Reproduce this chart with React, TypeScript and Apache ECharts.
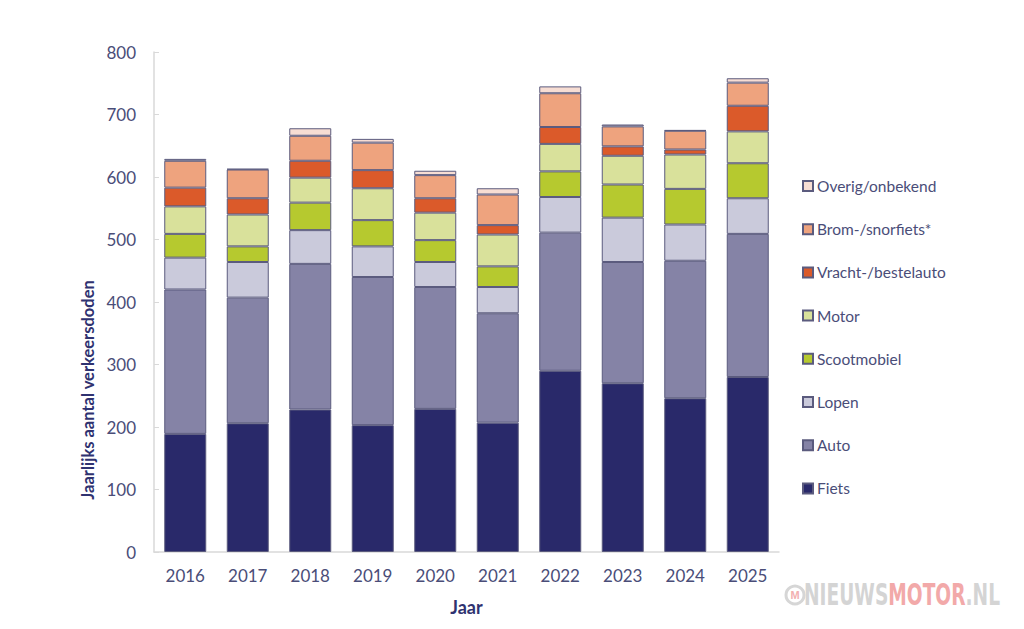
import React, { useEffect, useRef } from "react";
import * as echarts from "echarts";

const years = ["2016", "2017", "2018", "2019", "2020", "2021", "2022", "2023", "2024", "2025"];
const fiets = [189, 206, 228, 203, 229, 207, 290, 270, 246, 280];
const auto = [231, 201, 233, 237, 195, 175, 221, 194, 220, 229];
const lopen = [51, 57, 54, 49, 40, 42, 57, 71, 58, 57];
const scootmobiel = [38, 25, 44, 42, 35, 33, 41, 53, 57, 56];
const motor = [44, 51, 40, 51, 44, 51, 44, 46, 55, 51];
const vracht = [30, 26, 27, 29, 23, 15, 27, 15, 8, 41];
const brom = [43, 46, 40, 44, 37, 49, 54, 32, 30, 37];
const overig = [3, 1, 12, 6, 7, 10, 11, 3, 1, 7];
const yTicks = [0, 100, 200, 300, 400, 500, 600, 700, 800];

const seriesDefs = [
  { name: "Fiets", data: fiets, color: "#29296a" },
  { name: "Auto", data: auto, color: "#8583a6" },
  { name: "Lopen", data: lopen, color: "#cacadb" },
  { name: "Scootmobiel", data: scootmobiel, color: "#b6c92f" },
  { name: "Motor", data: motor, color: "#d9e19b" },
  { name: "Vracht-/bestelauto", data: vracht, color: "#db5a2a" },
  { name: "Brom-/snorfiets*", data: brom, color: "#eea37e" },
  { name: "Overig/onbekend", data: overig, color: "#f7ddd3" },
];

const FONT = "Lato, 'Open Sans', sans-serif";
const LABEL = "#4a4d78";
const WM_FONT = "bold 30px 'DejaVu Sans Condensed', 'Liberation Sans Narrow', sans-serif";

export default function App() {
  const ref = useRef<HTMLDivElement>(null);
  useEffect(() => {
    if (!ref.current) return;
    const chart = echarts.init(ref.current, undefined, { renderer: "svg" });
    chart.setOption({
      animation: false,
      backgroundColor: "#ffffff",
      textStyle: { fontFamily: FONT },
      grid: { left: 154, right: 245, top: 52, bottom: 77, containLabel: false },
      legend: {
        orient: "vertical",
        left: 797,
        top: 173,
        itemWidth: 10,
        itemHeight: 10,
        itemGap: 27.2,
        icon: "rect",
        data: seriesDefs.map((s) => s.name).reverse(),
        textStyle: { color: LABEL, fontSize: 15.5, fontFamily: FONT, lineHeight: 15, padding: [0, 0, 0, -1] },
      },
      xAxis: {
        type: "category",
        data: years,
        name: "Jaar",
        nameLocation: "middle",
        nameGap: 46,
        nameTextStyle: { color: "#2f3270", fontSize: 18, fontWeight: "bold", fontFamily: FONT },
        axisLine: { lineStyle: { color: "#d9d9d9", width: 1.5 } },
        axisTick: { show: false },
        axisLabel: { color: LABEL, fontSize: 17, margin: 15, fontFamily: FONT },
      },
      yAxis: {
        type: "value",
        min: 0,
        max: 800,
        interval: 100,
        axisLine: { show: true, lineStyle: { color: "#d9d9d9", width: 1.5 } },
        axisTick: { show: true, inside: true, length: 5, lineStyle: { color: "#d9d9d9" } },
        splitLine: { show: false },
        axisLabel: {
          color: LABEL,
          fontSize: 17,
          margin: 18,
          fontFamily: FONT,
          formatter: (v: number) => (yTicks.includes(v) ? String(v) : ""),
        },
      },
      series: seriesDefs.map((s) => ({
        name: s.name,
        type: "bar",
        stack: "total",
        barWidth: 42,
        data: s.data,
        itemStyle: { color: s.color, borderColor: "#5b5b7e", borderWidth: 1 },
        emphasis: { disabled: true },
      })),
      graphic: [
        {
          type: "text",
          x: 88,
          y: 390,
          rotation: Math.PI / 2,
          style: {
            text: "Jaarlijks aantal verkeersdoden",
            fill: "#2f3270",
            font: `bold 16.5px ${FONT}`,
            align: "center",
            verticalAlign: "middle",
          },
        },
        {
          type: "circle",
          shape: { cx: 795, cy: 595, r: 9 },
          style: { fill: "none", stroke: "#d6d6d6", lineWidth: 3 },
        },
        {
          type: "text",
          x: 795,
          y: 595,
          style: {
            text: "M",
            fill: "#f2b0b0",
            font: `bold 11px 'Liberation Sans', sans-serif`,
            align: "center",
            verticalAlign: "middle",
          },
        },
        {
          type: "text",
          x: 804,
          y: 595,
          scaleX: 0.69,
          style: {
            text: "{a|NIEUWS}{b|MOTOR}{a|.NL}",
            verticalAlign: "middle",
            rich: {
              a: { fill: "#d4d4d4", font: WM_FONT },
              b: { fill: "#f2a9a9", font: WM_FONT },
            },
          },
        },
      ],
    });
    return () => chart.dispose();
  }, []);
  return <div ref={ref} style={{ position: "fixed", left: 0, top: 0, width: 1024, height: 629 }} />;
}
